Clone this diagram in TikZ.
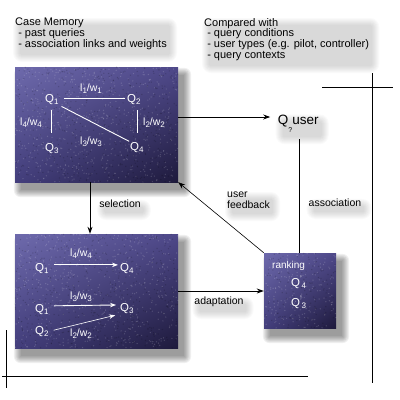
\documentclass[tikz,border=0pt]{standalone}
\usepackage{fontspec}
\setmainfont{Liberation Sans}
\usetikzlibrary{arrows.meta,calc,shadings}
\pgfdeclarelayer{background}
\pgfsetlayers{background,main}
\definecolor{bUL}{HTML}{6E6AAC}
\definecolor{bUR}{HTML}{4E4889}
\definecolor{bLL}{HTML}{433E7C}
\definecolor{bLR}{HTML}{1E1A3C}
\newcommand\lo[1]{\raisebox{-2.8pt}{\fontsize{8}{8}\selectfont #1}}
\newcommand\qp[1]{Q\raisebox{4.5pt}{\fontsize{8}{8}\selectfont '}\kern-0.3pt\lo{#1}}
\newcommand\boxshade[1]{%
  \foreach \e in {0,...,7}{%
    \fill[black,opacity=0.06,rounded corners=\e pt]
      ($(#1.north west)+(6-\e,8-\e)$) rectangle ($(#1.south east)+(6+\e,8+\e)$);}}
\newcommand\txtshade[1]{%
  \foreach \e in {0,...,7}{%
    \fill[black,opacity=0.02,rounded corners={(2+\e)*1pt}]
      ($(#1.north west)+(5-\e,7-\e)$) rectangle ($(#1.south east)+(3+\e,5+\e)$);}}
\begin{document}
\begin{tikzpicture}[x=1pt,y=-1pt,
  box/.style={shade,upper left=bUL,upper right=bUR,lower left=bLL,lower right=bLR,inner sep=0},
  txt/.style={font=\fontsize{11}{10.8}\selectfont,align=left,inner sep=0,anchor=north west},
  wq/.style={font=\fontsize{11.5}{12}\selectfont,text=white,inner sep=0,anchor=base west},
  wl/.style={font=\fontsize{10.5}{12}\selectfont,text=white,inner sep=0,anchor=base west},
  lab/.style={font=\fontsize{10.5}{11}\selectfont,inner sep=0,align=left},
  wline/.style={white,line width=0.9pt},
  warr/.style={white,line width=0.9pt,-{Stealth[length=6pt,width=4.5pt]}},
  arr/.style={black,line width=0.9pt,-{Stealth[length=7pt,width=5pt]}},
  tarr/.style={black,line width=0.6pt,-{Stealth[length=7pt,width=5pt]}},
  frame/.style={black,line width=1pt}]
\useasboundingbox (0,0) rectangle (400,400);

% boxes
\node[box,minimum width=163pt,minimum height=115pt] (cm) at (96.5,124.5) {};
\node[box,minimum width=163pt,minimum height=114pt] (ad) at (96.5,291) {};
\node[box,minimum width=72pt,minimum height=75pt] (rk) at (300,290.5) {};

% texture
\pgfmathsetseed{7}
\foreach \i in {1,...,650}{\fill[white,opacity=0.16] ({15+163*rnd},{67+115*rnd}) circle (0.7pt);}
\foreach \i in {1,...,650}{\fill[white,opacity=0.16] ({15+163*rnd},{234+114*rnd}) circle (0.7pt);}
\foreach \i in {1,...,200}{\fill[white,opacity=0.16] ({264+72*rnd},{253+75*rnd}) circle (0.7pt);}
\foreach \i in {1,...,500}{\fill[black,opacity=0.16] ({15+163*rnd},{67+115*rnd}) circle (0.7pt);}
\foreach \i in {1,...,500}{\fill[black,opacity=0.16] ({15+163*rnd},{234+114*rnd}) circle (0.7pt);}
\foreach \i in {1,...,150}{\fill[black,opacity=0.16] ({264+72*rnd},{253+75*rnd}) circle (0.7pt);}

% texts outside
\node[txt] (cmtxt) at (15,18) {Case Memory\\\ - past queries\\\ - association links and weights};
\node[txt] (cwtxt) at (204,18) {Compared with\\\ - query conditions\\\ - user types (e.g. pilot, controller)\\\ - query contexts};

% case memory box content
\node[wq] (q1) at (45,102) {Q\lo{1}};
\node[wq] (q2) at (127,102) {Q\lo{2}};
\node[wq] (q3) at (45,151) {Q\lo{3}};
\node[wq] (q4) at (130,150) {Q\lo{4}};
\node[wl] (l1) at (80,91) {l\lo{1}/w\lo{1}};
\node[wl] (l4) at (20,125) {l\lo{4}/w\lo{4}};
\node[wl] (l2) at (143,125) {l\lo{2}/w\lo{2}};
\node[wl] (l3) at (80,144) {l\lo{3}/w\lo{3}};
\draw[wline,shorten <=5pt,shorten >=2pt] ([yshift=1pt]q1.east) -- ([yshift=1pt]q2.west);
\draw[wline,shorten <=5pt,shorten >=10pt] (q1.south) -- (q3.north);
\draw[wline,shorten <=5pt,shorten >=9pt] ([xshift=4pt]q2.south) -- ([xshift=4pt]q2.south |- q4.north);
\draw[wline,shorten <=3pt,shorten >=1pt] (q1.south east) -- (q4.north west);

% adaptation box content
\node[wq] (qa1) at (35,271) {Q\lo{1}};
\node[wq] (qa4) at (120,271) {Q\lo{4}};
\node[wq] (qb1) at (35,312) {Q\lo{1}};
\node[wq] (qb3) at (120,311) {Q\lo{3}};
\node[wq] (qb2) at (35,334) {Q\lo{2}};
\node[wl] (la4) at (70,256) {l\lo{4}/w\lo{4}};
\node[wl] (lb3) at (70,299) {l\lo{3}/w\lo{3}};
\node[wl] (lb2) at (70,336) {l\lo{2}/w\lo{2}};
\draw[warr,shorten <=5pt,shorten >=2pt] ([yshift=3.5pt]qa1.east) -- ([yshift=3.5pt]qa4.west);
\draw[warr,shorten <=5pt,shorten >=4pt] ([yshift=3.5pt]qb1.east) -- ([yshift=3.5pt]qb3.west);
\draw[white,line width=0.6pt,-{Stealth[length=6pt,width=4.5pt]},shorten <=5pt,shorten >=5pt] (qb2.east) -- (qb3.south west);

% ranking box content
\node[font=\fontsize{10}{11}\selectfont,text=white,inner sep=0,anchor=base west] (rt) at (272,268) {ranking};
\node[wq] (r4) at (291,286) {\qp{4}};
\node[wq] (r3) at (291,306) {\qp{3}};

% query
\node[font=\fontsize{13.5}{14}\selectfont,inner sep=0,anchor=base west] (qu) at (277.7,124)
  {Q\raisebox{-8pt}{\fontsize{7}{7}\selectfont ?}user};

% connectors
\coordinate (sel) at (90,0);
\draw[arr] (cm.south -| sel) -- (ad.north -| sel);
\draw[arr,shorten >=7.5pt] (cm.east |- 0,117) -- (qu.west |- 0,117);
\coordinate (asc) at (299,139);
\draw[frame] (asc) -- (asc |- rk.north);
\draw[tarr] (rk.north west) -- (cm.south east);
\draw[arr] (ad.east) -- (rk.west |- ad.east);

% connector labels
\node[lab] (sl) at (120,204) {selection};
\node[lab,anchor=north west] (uf) at (227,192) {user\\feedback};
\node[lab] (asl) at (335,203) {association};
\node[lab] (adl) at (219,302) {adaptation};

% shadows
\begin{pgfonlayer}{background}
  \boxshade{cm}\boxshade{ad}\boxshade{rk}
  \txtshade{cmtxt}\txtshade{cwtxt}\txtshade{qu}
  \txtshade{sl}\txtshade{uf}\txtshade{asl}\txtshade{adl}
\end{pgfonlayer}

% frame lines
\draw[frame] (322,87) -- (393,87);
\draw[frame] (372,73) -- (372,383);
\draw[frame] (2,376) -- (308,376);
\draw[frame] (6,330) -- (6,388);
\end{tikzpicture}
\end{document}
